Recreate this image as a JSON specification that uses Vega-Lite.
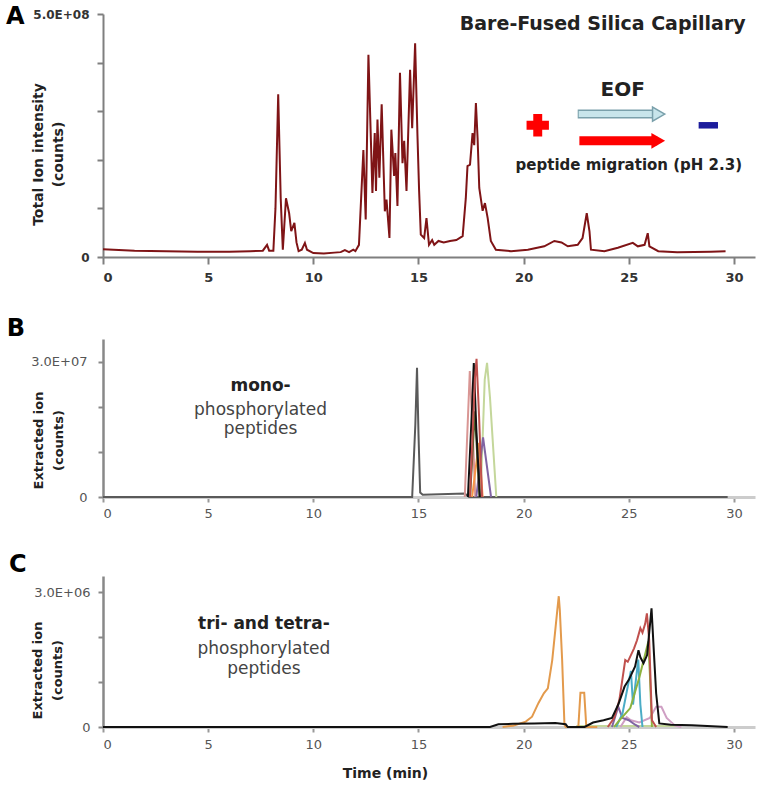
{
"$schema": "https://vega.github.io/schema/vega-lite/v6.json",
"background": "white",
"padding": {"left": 5, "top": 5, "right": 5, "bottom": 2},
"config": {"view": {"stroke": null}, "font": "DejaVu Sans"},
"spacing": 33,
"resolve": {"scale": {"color": "independent"}},
"vconcat": [
{
 "width": 652, "height": 243,
 "title": {"text": "A", "anchor": "start", "frame": "bounds", "fontSize": 24, "fontWeight": "bold", "color": "#000", "offset": 0, "dx": -25, "dy": 21},
 "layer": [
  {"data": {"values": [
{"t":0,"v":1.6e7},{"t":0.5,"v":1.5e7},{"t":1.5,"v":1.3e7},{"t":3,"v":1.2e7},{"t":4.5,"v":1.1e7},{"t":6,"v":1.1e7},{"t":7.0,"v":1.2e7},{"t":7.6,"v":1.3e7},{"t":7.8,"v":2.5e7},{"t":7.9,"v":1.3e7},{"t":8.1,"v":1.3e7},{"t":8.2,"v":1.0e8},{"t":8.33,"v":3.35e8},{"t":8.45,"v":1.2e8},{"t":8.55,"v":1.5e7},{"t":8.7,"v":1.21e8},{"t":8.85,"v":9.0e7},{"t":8.95,"v":5.3e7},{"t":9.1,"v":7.0e7},{"t":9.2,"v":3.0e7},{"t":9.3,"v":1.2e7},{"t":9.45,"v":1.5e7},{"t":9.6,"v":2.9e7},{"t":9.7,"v":1.5e7},{"t":10.0,"v":8e6},{"t":10.5,"v":7e6},{"t":11.0,"v":9e6},{"t":11.3,"v":1.0e7},{"t":11.5,"v":1.4e7},{"t":11.7,"v":1.0e7},{"t":11.9,"v":1.5e7},{"t":12.0,"v":1.2e7},{"t":12.17,"v":2.5e7},{"t":12.38,"v":2.2e8},{"t":12.49,"v":7.7e7},{"t":12.62,"v":4.16e8},{"t":12.81,"v":1.32e8},{"t":12.92,"v":2.55e8},{"t":12.98,"v":1.36e8},{"t":13.05,"v":2.83e8},{"t":13.14,"v":1.63e8},{"t":13.25,"v":3.14e8},{"t":13.4,"v":9.4e7},{"t":13.48,"v":1.18e8},{"t":13.62,"v":3.9e7},{"t":13.71,"v":2.62e8},{"t":13.84,"v":1.67e8},{"t":13.9,"v":2.14e8},{"t":14.0,"v":1.05e8},{"t":14.12,"v":3.79e8},{"t":14.24,"v":1.93e8},{"t":14.32,"v":2.39e8},{"t":14.43,"v":1.36e8},{"t":14.6,"v":3.85e8},{"t":14.7,"v":2.65e8},{"t":14.84,"v":4.4e8},{"t":14.95,"v":2.52e8},{"t":15.03,"v":1.36e8},{"t":15.11,"v":4.6e7},{"t":15.27,"v":3.9e7},{"t":15.38,"v":8.0e7},{"t":15.5,"v":2.5e7},{"t":15.65,"v":3.5e7},{"t":15.75,"v":2.5e7},{"t":15.95,"v":3.3e7},{"t":16.2,"v":3.0e7},{"t":16.5,"v":3.3e7},{"t":16.8,"v":3.5e7},{"t":17.1,"v":4.3e7},{"t":17.25,"v":1.21e8},{"t":17.33,"v":1.87e8},{"t":17.45,"v":1.9e8},{"t":17.57,"v":2.55e8},{"t":17.65,"v":2.3e8},{"t":17.73,"v":3.17e8},{"t":17.81,"v":2.45e8},{"t":17.89,"v":1.42e8},{"t":18.05,"v":9.5e7},{"t":18.16,"v":1.11e8},{"t":18.29,"v":8.0e7},{"t":18.44,"v":3.3e7},{"t":18.68,"v":1.5e7},{"t":19.4,"v":1.2e7},{"t":20.2,"v":1.5e7},{"t":20.98,"v":2.2e7},{"t":21.46,"v":3.3e7},{"t":21.8,"v":3.0e7},{"t":22.1,"v":2.2e7},{"t":22.57,"v":2.5e7},{"t":22.8,"v":3.9e7},{"t":23.0,"v":9.0e7},{"t":23.13,"v":5.3e7},{"t":23.2,"v":1.5e7},{"t":23.84,"v":1.2e7},{"t":24.48,"v":1.9e7},{"t":25.19,"v":2.9e7},{"t":25.43,"v":2.2e7},{"t":25.75,"v":2.5e7},{"t":25.9,"v":4.9e7},{"t":25.98,"v":2.2e7},{"t":26.4,"v":1.2e7},{"t":27.3,"v":1.0e7},{"t":28.9,"v":1.1e7},{"t":29.6,"v":1.2e7}
  ]},
   "mark": {"type": "line", "color": "#7f1416", "strokeWidth": 2},
   "encoding": {
    "x": {"field": "t", "type": "quantitative", "scale": {"domain": [0, 31], "nice": false},
      "axis": {"title": null, "values": [0,5,10,15,20,25,30], "grid": false, "domainColor": "#7f7f7f", "domainWidth": 2, "tickColor": "#7f7f7f", "tickWidth": 2, "tickSize": 7, "labelFontSize": 13, "labelFontWeight": "bold", "labelColor": "#333", "labelPadding": 7}},
    "y": {"field": "v", "type": "quantitative", "scale": {"domain": [0, 500000000], "nice": false},
      "axis": {"title": ["Total Ion intensity", "(counts)"], "titleFontSize": 14, "titleFontWeight": "bold", "titleColor": "#222", "titleLineHeight": 20, "titleX": -58, "titleY": 140,
        "values": [0,100000000,200000000,300000000,400000000,500000000], "labelExpr": "datum.value == 500000000 ? '5.0E+08' : (datum.value == 0 ? '0' : '')",
        "grid": false, "domainColor": "#7f7f7f", "domainWidth": 2, "tickColor": "#7f7f7f", "tickWidth": 2, "tickSize": 6, "labelFontSize": 12, "labelFontWeight": "bold", "labelColor": "#333", "labelPadding": 8}}
   }},
  {"data": {"values": [{}]}, "mark": {"type": "text", "text": "Bare-Fused Silica Capillary", "fontSize": 19, "fontWeight": "bold", "color": "#222", "align": "center", "baseline": "middle"},
   "encoding": {"x": {"datum": 23.76}, "y": {"datum": 480000000}}},
  {"data": {"values": [{}]}, "mark": {"type": "text", "text": "EOF", "fontSize": 20, "fontWeight": "bold", "color": "#222", "align": "center", "baseline": "middle"},
   "encoding": {"x": {"datum": 24.71}, "y": {"datum": 343000000}}},
  {"data": {"values": [{}]}, "mark": {"type": "text", "text": "peptide migration (pH 2.3)", "fontSize": 15, "fontWeight": "bold", "color": "#222", "align": "center", "baseline": "middle"},
   "encoding": {"x": {"datum": 25.0}, "y": {"datum": 190000000}}},
  {"data": {"values": [{}]}, "mark": {"type": "rule", "color": "#7aa0ab", "strokeWidth": 9},
   "encoding": {"x": {"datum": 22.57}, "x2": {"datum": 26.35}, "y": {"datum": 294000000}}},
  {"data": {"values": [{}]}, "mark": {"type": "rule", "color": "#c8e5eb", "strokeWidth": 6},
   "encoding": {"x": {"datum": 22.62}, "x2": {"datum": 26.4}, "y": {"datum": 294000000}}},
  {"data": {"values": [{}]}, "mark": {"type": "point", "shape": "triangle-right", "filled": true, "fill": "#c8e5eb", "stroke": "#7aa0ab", "strokeWidth": 1.5, "size": 200, "opacity": 1},
   "encoding": {"x": {"datum": 26.42}, "y": {"datum": 294000000}}},
  {"data": {"values": [{}]}, "mark": {"type": "rule", "color": "#ff0000", "strokeWidth": 9},
   "encoding": {"x": {"datum": 22.65}, "x2": {"datum": 26.35}, "y": {"datum": 239000000}}},
  {"data": {"values": [{}]}, "mark": {"type": "point", "shape": "triangle-right", "filled": true, "color": "#ff0000", "size": 250, "opacity": 1},
   "encoding": {"x": {"datum": 26.4}, "y": {"datum": 239000000}}},
  {"data": {"values": [{}]}, "mark": {"type": "point", "shape": "cross", "filled": true, "color": "#ff0000", "size": 500, "opacity": 1},
   "encoding": {"x": {"datum": 20.67}, "y": {"datum": 271000000}}},
  {"data": {"values": [{}]}, "mark": {"type": "rule", "color": "#1c1c9c", "strokeWidth": 6.5},
   "encoding": {"x": {"datum": 28.32}, "x2": {"datum": 29.24}, "y": {"datum": 271000000}}}
 ]
},
{
 "width": 652, "height": 158,
 "title": {"text": "B", "anchor": "start", "frame": "bounds", "fontSize": 24, "fontWeight": "bold", "color": "#000", "offset": 0, "dx": -24, "dy": 2},
 "layer": [
  {"data": {"values": [
{"s":"gray","t":0,"v":0},{"s":"gray","t":14.7,"v":0},{"s":"gray","t":14.85,"v":1.6e7},{"s":"gray","t":14.93,"v":2.86e7},{"s":"gray","t":15.0,"v":1.4e7},{"s":"gray","t":15.08,"v":1e6},{"s":"gray","t":15.2,"v":5e5},{"s":"gray","t":17.2,"v":8e5},{"s":"gray","t":17.4,"v":0},{"s":"gray","t":29.7,"v":0},
{"s":"lightgreen","t":17.95,"v":0},{"s":"lightgreen","t":18.15,"v":2.6e7},{"s":"lightgreen","t":18.26,"v":2.97e7},{"s":"lightgreen","t":18.4,"v":2.2e7},{"s":"lightgreen","t":18.7,"v":0},
{"s":"rose","t":17.2,"v":0},{"s":"rose","t":17.44,"v":2.79e7},{"s":"rose","t":17.6,"v":1.2e7},{"s":"rose","t":17.7,"v":0},
{"s":"purple","t":17.75,"v":0},{"s":"purple","t":18.07,"v":1.32e7},{"s":"purple","t":18.45,"v":0},
{"s":"orange","t":17.55,"v":0},{"s":"orange","t":17.87,"v":1.2e7},{"s":"orange","t":18.05,"v":0},
{"s":"olive","t":17.45,"v":0},{"s":"olive","t":17.68,"v":1.9e7},{"s":"olive","t":17.9,"v":0},
{"s":"black","t":17.35,"v":0},{"s":"black","t":17.55,"v":2.0e7},{"s":"black","t":17.63,"v":2.97e7},{"s":"black","t":17.75,"v":1.5e7},{"s":"black","t":17.92,"v":0},
{"s":"brick","t":17.45,"v":0},{"s":"brick","t":17.68,"v":2.6e7},{"s":"brick","t":17.76,"v":3.06e7},{"s":"brick","t":17.88,"v":1.8e7},{"s":"brick","t":18.02,"v":0}
  ]},
   "mark": {"type": "line", "strokeWidth": 2},
   "encoding": {
    "x": {"field": "t", "type": "quantitative", "scale": {"domain": [0, 31], "nice": false},
      "axis": {"title": null, "values": [0,5,10,15,20,25,30], "grid": false, "domainColor": "#cccccc", "domainWidth": 3, "tickColor": "#999999", "tickWidth": 2, "tickSize": 5, "labelFontSize": 13, "labelColor": "#555", "labelPadding": 5}},
    "y": {"field": "v", "type": "quantitative", "scale": {"domain": [0, 35000000], "nice": false},
      "axis": {"title": ["Extracted ion", "(counts)"], "titleFontSize": 13, "titleFontWeight": "bold", "titleColor": "#222", "titleLineHeight": 20, "titleX": -58, "titleY": 101,
        "values": [0,10000000,20000000,30000000], "labelExpr": "datum.value == 30000000 ? '3.0E+07' : (datum.value == 0 ? '0' : '')",
        "grid": false, "domainColor": "#888888", "domainWidth": 2.5, "tickColor": "#888888", "tickWidth": 2, "tickSize": 5, "labelFontSize": 13, "labelColor": "#555", "labelPadding": 11}},
    "color": {"field": "s", "type": "nominal", "legend": null, "sort": null,
      "scale": {"domain": ["gray","lightgreen","rose","purple","orange","olive","black","brick"], "range": ["#5a5a5a","#c4d79b","#d99694","#8064a2","#f79646","#4f6228","#111111","#c0504d"]}}
   }},
  {"data": {"values": [{}]}, "mark": {"type": "text", "text": "mono-", "fontSize": 17, "fontWeight": "bold", "color": "#222", "align": "center", "baseline": "alphabetic"},
   "encoding": {"x": {"datum": 7.49}, "y": {"datum": 23400000}}},
  {"data": {"values": [{}]}, "mark": {"type": "text", "text": "phosphorylated", "fontSize": 17, "color": "#444", "align": "center", "baseline": "alphabetic"},
   "encoding": {"x": {"datum": 7.49}, "y": {"datum": 18200000}}},
  {"data": {"values": [{}]}, "mark": {"type": "text", "text": "peptides", "fontSize": 17, "color": "#444", "align": "center", "baseline": "alphabetic"},
   "encoding": {"x": {"datum": 7.49}, "y": {"datum": 13900000}}}
 ]
},
{
 "width": 652, "height": 151,
 "title": {"text": "C", "anchor": "start", "frame": "bounds", "fontSize": 24, "fontWeight": "bold", "color": "#000", "offset": 0, "dx": -22, "dy": 1},
 "layer": [
  {"data": {"values": [
{"s":"lightgreen","t":22.5,"v":2e4},{"s":"lightgreen","t":27.5,"v":2e4},
{"s":"mauve","t":24.6,"v":0},{"s":"mauve","t":24.9,"v":2.2e5},{"s":"mauve","t":25.1,"v":1.5e5},{"s":"mauve","t":25.5,"v":1.0e5},{"s":"mauve","t":26.0,"v":2.0e5},{"s":"mauve","t":26.3,"v":4.5e5},{"s":"mauve","t":26.55,"v":4.5e5},{"s":"mauve","t":26.8,"v":2.0e5},{"s":"mauve","t":27.2,"v":3e4},{"s":"mauve","t":27.5,"v":0},
{"s":"purple","t":24.2,"v":0},{"s":"purple","t":24.5,"v":4.5e5},{"s":"purple","t":24.7,"v":2.0e5},{"s":"purple","t":25.0,"v":1.5e5},{"s":"purple","t":25.3,"v":5e4},{"s":"purple","t":25.5,"v":0},
{"s":"orange","t":19.0,"v":0},{"s":"orange","t":19.5,"v":3e4},{"s":"orange","t":20.1,"v":1.2e5},{"s":"orange","t":20.4,"v":2.3e5},{"s":"orange","t":20.7,"v":5.3e5},{"s":"orange","t":20.96,"v":7.5e5},{"s":"orange","t":21.15,"v":8.6e5},{"s":"orange","t":21.36,"v":1.49e6},{"s":"orange","t":21.52,"v":2.23e6},{"s":"orange","t":21.6,"v":2.6e6},{"s":"orange","t":21.67,"v":2.91e6},{"s":"orange","t":21.72,"v":2.6e6},{"s":"orange","t":21.83,"v":1.49e6},{"s":"orange","t":21.94,"v":5e4},{"s":"orange","t":22.0,"v":0},{"s":"orange","t":22.6,"v":0},{"s":"orange","t":22.7,"v":7.6e5},{"s":"orange","t":22.88,"v":7.6e5},{"s":"orange","t":22.98,"v":0},{"s":"orange","t":23.5,"v":0},
{"s":"teal","t":24.4,"v":0},{"s":"teal","t":24.7,"v":3.0e5},{"s":"teal","t":24.95,"v":9.0e5},{"s":"teal","t":25.1,"v":1.25e6},{"s":"teal","t":25.2,"v":5.0e5},{"s":"teal","t":25.35,"v":1.1e6},{"s":"teal","t":25.45,"v":1.5e6},{"s":"teal","t":25.55,"v":5.0e5},{"s":"teal","t":25.65,"v":0},
{"s":"green","t":24.3,"v":0},{"s":"green","t":24.5,"v":1.2e5},{"s":"green","t":25.07,"v":4.2e5},{"s":"green","t":25.5,"v":1.1e6},{"s":"green","t":25.93,"v":1.9e6},{"s":"green","t":26.0,"v":1.2e6},{"s":"green","t":26.1,"v":0},
{"s":"rose","t":24.0,"v":0},{"s":"rose","t":24.3,"v":2.0e5},{"s":"rose","t":24.55,"v":6.0e5},{"s":"rose","t":24.83,"v":1.49e6},{"s":"rose","t":24.95,"v":1.45e6},{"s":"rose","t":25.1,"v":1.6e6},{"s":"rose","t":25.25,"v":1.75e6},{"s":"rose","t":25.39,"v":1.93e6},{"s":"rose","t":25.55,"v":2.2e6},{"s":"rose","t":25.65,"v":2.1e6},{"s":"rose","t":25.78,"v":2.3e6},{"s":"rose","t":25.86,"v":2.53e6},{"s":"rose","t":25.97,"v":1.93e6},{"s":"rose","t":26.1,"v":1.5e5},{"s":"rose","t":26.3,"v":0},
{"s":"black","t":0,"v":0},{"s":"black","t":18.4,"v":0},{"s":"black","t":18.8,"v":6e4},{"s":"black","t":19.5,"v":7e4},{"s":"black","t":20.5,"v":8e4},{"s":"black","t":21.5,"v":9e4},{"s":"black","t":22.0,"v":6e4},{"s":"black","t":22.1,"v":0},{"s":"black","t":22.9,"v":0},{"s":"black","t":23.3,"v":1.0e5},{"s":"black","t":23.8,"v":1.5e5},{"s":"black","t":24.2,"v":2.0e5},{"s":"black","t":24.5,"v":5.0e5},{"s":"black","t":24.8,"v":9.0e5},{"s":"black","t":25.0,"v":1.05e6},{"s":"black","t":25.15,"v":1.2e6},{"s":"black","t":25.3,"v":1.35e6},{"s":"black","t":25.46,"v":1.71e6},{"s":"black","t":25.55,"v":1.55e6},{"s":"black","t":25.7,"v":1.42e6},{"s":"black","t":25.87,"v":1.6e6},{"s":"black","t":25.95,"v":2.0e6},{"s":"black","t":26.08,"v":2.64e6},{"s":"black","t":26.2,"v":1.6e6},{"s":"black","t":26.3,"v":7.5e5},{"s":"black","t":26.45,"v":8e4},{"s":"black","t":27.0,"v":5e4},{"s":"black","t":28.0,"v":4e4},{"s":"black","t":29.7,"v":0}
  ]},
   "mark": {"type": "line", "strokeWidth": 2},
   "encoding": {
    "x": {"field": "t", "type": "quantitative", "scale": {"domain": [0, 31], "nice": false},
      "axis": {"title": "Time (min)", "titleFontSize": 14, "titleFontWeight": "bold", "titleColor": "#222", "titleX": 282, "titleY": 39, "titleBaseline": "top",
        "values": [0,5,10,15,20,25,30], "grid": false, "domainColor": "#cccccc", "domainWidth": 3, "tickColor": "#999999", "tickWidth": 2, "tickSize": 5, "labelFontSize": 13, "labelColor": "#555", "labelPadding": 6}},
    "y": {"field": "v", "type": "quantitative", "scale": {"domain": [0, 3360000], "nice": false},
      "axis": {"title": ["Extracted ion", "(counts)"], "titleFontSize": 13, "titleFontWeight": "bold", "titleColor": "#222", "titleLineHeight": 20, "titleX": -59, "titleY": 94,
        "values": [0,1000000,2000000,3000000], "labelExpr": "datum.value == 3000000 ? '3.0E+06' : (datum.value == 0 ? '0' : '')",
        "grid": false, "domainColor": "#888888", "domainWidth": 2.5, "tickColor": "#888888", "tickWidth": 2, "tickSize": 5, "labelFontSize": 13, "labelColor": "#555", "labelPadding": 8}},
    "color": {"field": "s", "type": "nominal", "legend": null, "sort": null,
      "scale": {"domain": ["lightgreen","mauve","purple","orange","teal","green","rose","black"], "range": ["#c4d79b","#cf9fc4","#8064a2","#e39a4c","#4bacc6","#8db33f","#c0504d","#111111"]}}
   }},
  {"data": {"values": [{}]}, "mark": {"type": "text", "text": "tri- and tetra-", "fontSize": 17, "fontWeight": "bold", "color": "#222", "align": "center", "baseline": "alphabetic"},
   "encoding": {"x": {"datum": 7.65}, "y": {"datum": 2180000}}},
  {"data": {"values": [{}]}, "mark": {"type": "text", "text": "phosphorylated", "fontSize": 17, "color": "#444", "align": "center", "baseline": "alphabetic"},
   "encoding": {"x": {"datum": 7.65}, "y": {"datum": 1620000}}},
  {"data": {"values": [{}]}, "mark": {"type": "text", "text": "peptides", "fontSize": 17, "color": "#444", "align": "center", "baseline": "alphabetic"},
   "encoding": {"x": {"datum": 7.65}, "y": {"datum": 1180000}}}
 ]
}
]
}
